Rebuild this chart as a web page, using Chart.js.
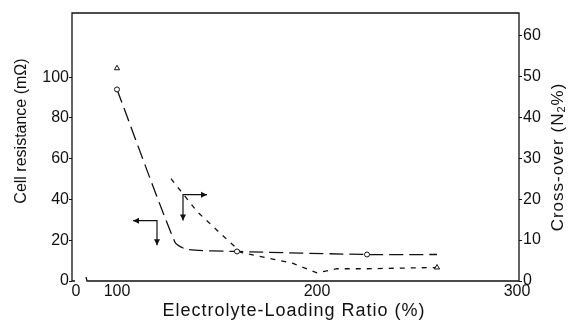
<!DOCTYPE html>
<html>
<head>
<meta charset="utf-8">
<script src="https://cdn.jsdelivr.net/npm/chart.js@4"></script>
<style>
  html, body { margin: 0; padding: 0; background: #fff; }
  #wrap { width: 568px; height: 324px; }
</style>
</head>
<body>
<div id="wrap"><canvas id="chart" width="568" height="324"></canvas></div>
<script>
// --- data ---
// cell resistance (mOhm), left axis
const resX = [100, 129, 135, 160, 225, 260];
const resY = [94, 19, 15.5, 14.5, 13, 13];
const resMarkerX = [100, 160, 225];

// cross-over (N2 %), right axis; null = gap in the printed curve
const crossX = [100, 112, 127, 140, 152, 162, 188, 200, 210, 225, 260];
const crossY = [52, null, 25, 17, 11.5, 7, 4.3, 2, 3, 3, 3.3];
const crossMarkerX = [100, 260];

// tick labels
const xTicks = [79.5, 100, 200, 300];
const xTickLabels = ['0', '100', '200', '300'];
const leftTicks = [0, 20, 40, 60, 80, 100];
const rightTicks = [0, 10, 20, 30, 40, 50, 60];

// axis-pointing arrows: [cornerX, cornerY, horizontal tip X, vertical tip Y]
const arrowLeft = [120, 29.6, 108, 17.5];   // left axis
const arrowRight = [133, 21.1, 145, 14.8];  // right axis

const FONT = '"Liberation Sans", Arial, sans-serif';
const INK = '#111';

function pts(xs, ys) {
    return xs.map((x, i) => ({ x: x, y: ys[i] }));
}

function arrowHead(ctx, x1, y1, x2, y2) {
    const a = Math.atan2(y2 - y1, x2 - x1);
    const len = 6, w = 3;
    ctx.beginPath();
    ctx.moveTo(x2, y2);
    ctx.lineTo(x2 - len * Math.cos(a) + w * Math.sin(a), y2 - len * Math.sin(a) - w * Math.cos(a));
    ctx.lineTo(x2 - len * Math.cos(a) - w * Math.sin(a), y2 - len * Math.sin(a) + w * Math.cos(a));
    ctx.closePath();
    ctx.fill();
}

function drawArrow(ctx, chart, arr, yScaleId) {
    const xs = chart.scales.x, ys = chart.scales[yScaleId];
    const cx = xs.getPixelForValue(arr[0]), cy = ys.getPixelForValue(arr[1]);
    const hx = xs.getPixelForValue(arr[2]), vy = ys.getPixelForValue(arr[3]);
    ctx.beginPath();
    ctx.moveTo(hx, cy);
    ctx.lineTo(cx, cy);
    ctx.lineTo(cx, vy);
    ctx.stroke();
    arrowHead(ctx, cx, cy, hx, cy);
    arrowHead(ctx, cx, cy, cx, vy);
}

// frame, axis break, arrows and axis titles
const decorPlugin = {
    id: 'decor',
    afterDatasetsDraw(chart) {
        const ctx = chart.ctx;
        const a = chart.chartArea;
        ctx.save();
        ctx.strokeStyle = INK;
        ctx.fillStyle = INK;
        ctx.lineWidth = 1.3;
        ctx.setLineDash([]);

        // box; bottom axis broken near the origin
        ctx.beginPath();
        ctx.moveTo(a.left, a.bottom);
        ctx.lineTo(a.left, a.top);
        ctx.lineTo(a.right, a.top);
        ctx.lineTo(a.right, a.bottom);
        ctx.lineTo(a.left + 15, a.bottom);
        ctx.lineTo(a.left + 14, a.bottom - 4);
        ctx.moveTo(a.left, a.bottom);
        ctx.lineTo(a.left + 3, a.bottom);
        ctx.stroke();

        ctx.lineWidth = 1.2;
        drawArrow(ctx, chart, arrowLeft, 'y');
        drawArrow(ctx, chart, arrowRight, 'y2');

        // titles
        ctx.textBaseline = 'middle';
        ctx.textAlign = 'center';
        ctx.font = '18px ' + FONT;
        ctx.letterSpacing = '1px';
        ctx.fillText('Electrolyte-Loading Ratio (%)', 294, 311);

        ctx.letterSpacing = '0px';
        ctx.font = '16px ' + FONT;
        ctx.save();
        ctx.translate(22, 131);
        ctx.rotate(-Math.PI / 2);
        ctx.fillText('Cell resistance (m\u03a9)', 0, 0);
        ctx.restore();

        // right title with subscript
        ctx.save();
        ctx.translate(558, 157);
        ctx.rotate(-Math.PI / 2);
        ctx.letterSpacing = '1px';
        ctx.textAlign = 'left';
        const big = '17px ' + FONT, small = '11px ' + FONT;
        const p1 = 'Cross-over (N', p2 = '2', p3 = '%)';
        ctx.font = big;
        const w1 = ctx.measureText(p1).width, w3 = ctx.measureText(p3).width;
        ctx.font = small;
        const w2 = ctx.measureText(p2).width;
        let x = -(w1 + w2 + w3) / 2;
        ctx.font = big;
        ctx.fillText(p1, x, 0);
        x += w1;
        ctx.font = small;
        ctx.fillText(p2, x, 4);
        x += w2;
        ctx.font = big;
        ctx.fillText(p3, x, 0);
        ctx.restore();

        ctx.restore();
    }
};

function markerRadius(list, r) {
    return (c) => {
        const p = c.raw;
        return p && list.includes(p.x) && p.y !== null ? r : 0;
    };
}

new Chart(document.getElementById('chart'), {
    type: 'line',
    data: {
        datasets: [
            {
                label: 'Cell resistance',
                data: pts(resX, resY),
                yAxisID: 'y',
                borderColor: INK,
                borderWidth: 1.3,
                borderDash: [14, 6],
                pointStyle: 'circle',
                pointRadius: markerRadius(resMarkerX, 2.5),
                pointBorderColor: INK,
                pointBackgroundColor: '#fff',
                pointBorderWidth: 1,
                tension: 0.2,
                fill: false
            },
            {
                label: 'Cross-over',
                data: pts(crossX, crossY),
                yAxisID: 'y2',
                borderColor: INK,
                borderWidth: 1.3,
                borderDash: [5, 6],
                pointStyle: 'triangle',
                pointRadius: markerRadius(crossMarkerX, 3),
                pointBorderColor: INK,
                pointBackgroundColor: '#fff',
                pointBorderWidth: 1,
                spanGaps: false,
                tension: 0,
                fill: false
            }
        ]
    },
    options: {
        responsive: false,
        animation: false,
        layout: { padding: { top: 13, left: 0, right: 0, bottom: 0 } },
        plugins: {
            legend: { display: false },
            tooltip: { enabled: false }
        },
        scales: {
            x: {
                type: 'linear',
                min: 77.5,
                max: 301,
                afterFit: (s) => { s.height = 43; },
                afterBuildTicks: (s) => { s.ticks = xTicks.map(v => ({ value: v })); },
                grid: { display: false, drawTicks: false, tickLength: 0 },
                border: { display: false },
                ticks: {
                    color: INK,
                    font: { family: FONT, size: 16 },
                    padding: 1,
                    maxRotation: 0,
                    autoSkip: false,
                    callback: (v) => xTickLabels[xTicks.indexOf(v)]
                }
            },
            y: {
                position: 'left',
                min: 0,
                max: 131.5,
                afterFit: (s) => { s.width = 72; },
                afterBuildTicks: (s) => { s.ticks = leftTicks.map(v => ({ value: v })); },
                grid: { drawOnChartArea: false, tickLength: 3, color: INK, lineWidth: 1 },
                border: { display: false },
                ticks: { color: INK, font: { family: FONT, size: 16 }, padding: 0 }
            },
            y2: {
                position: 'right',
                min: 0,
                max: 65.5,
                afterFit: (s) => { s.width = 49; },
                afterBuildTicks: (s) => { s.ticks = rightTicks.map(v => ({ value: v })); },
                grid: { drawOnChartArea: false, tickLength: 3, color: INK, lineWidth: 1 },
                border: { display: false },
                ticks: { color: INK, font: { family: FONT, size: 16 }, padding: 1 }
            }
        }
    },
    plugins: [decorPlugin]
});
</script>
</body>
</html>
